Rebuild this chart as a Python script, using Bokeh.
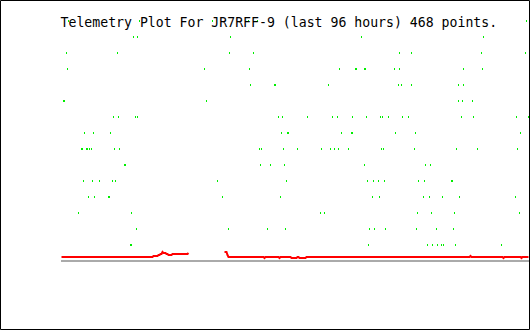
from bokeh.plotting import figure
from bokeh.models import Range1d, Label
from bokeh.embed import file_html
from bokeh.resources import INLINE

# ---- data ----
title_text = "Telemetry Plot For JR7RFF-9 (last 96 hours) 468 points."
n_points = 468

# digital channels: point index of each "on" sample, per row (row 1 = bottom)
bits = {
    15: [7, 78, 151, 187, 196, 299, 351, 465],
    14: [72, 76, 169, 300, 422],
    13: [5, 56, 168, 192, 338, 350, 420, 464],
    12: [6, 143, 188, 278, 294, 295, 303, 304, 333, 338, 402, 421],
    11: [189, 213, 214, 267, 337, 340, 350, 397, 402],
    10: [2, 3, 145, 397, 401, 411],
    9: [52, 57, 74, 76, 217, 221, 246, 271, 276, 291, 305, 319, 321, 327, 341, 347, 400, 412, 455, 467],
    8: [23, 32, 49, 220, 226, 227, 280, 290, 291, 334, 354, 459],
    7: [20, 21, 25, 26, 28, 30, 53, 58, 198, 200, 222, 236, 260, 269, 273, 277, 287, 320, 322, 353, 395, 416, 456],
    6: [63, 64, 199, 209, 223, 303, 364, 369],
    5: [22, 31, 38, 51, 54, 156, 225, 306, 312, 317, 323, 357, 363, 390, 391],
    4: [27, 33, 47, 48, 161, 219, 311, 318, 362, 368, 381, 398, 454],
    3: [17, 70, 259, 263, 356, 370, 393, 458],
    2: [75, 167, 206, 224, 308, 313, 324, 355, 375, 392],
    1: [69, 70, 307, 366, 371, 376, 380, 382, 394, 440],
}

# analog channel (point index, value); NaN = no data
red_idx = [0, 91, 92, 96, 97, 98, 99, 100, 101, 102, 104, 105, 106, 107, 110, 111, 126, 127,
           145,
           163, 165, 166, 167, 202, 203, 204, 217, 218, 219, 229, 230, 235, 236, 237, 238, 244,
           245, 408, 409, 410, 441, 442, 443, 459, 460, 461, 467]
red_val = [4, 4, 5, 5, 6, 6, 7, 7, 9, 8, 8, 7, 7, 6, 6, 7, 7, 8,
           float("nan"),
           9, 9, 6, 4, 4, 3, 4, 4, 3, 4, 4, 3, 3, 4, 4, 3, 3,
           4, 4, 5, 4, 4, 3, 4, 4, 3, 4, 4]

zero_idx = [0, n_points - 1]
zero_val = [0, 0]

# ---- figure ----
p = figure(width=530, height=330, output_backend="svg", toolbar_location=None,
           x_range=Range1d(-61.0, 469.0), y_range=Range1d(-69.5, 260.5),
           x_axis_location=None, y_axis_location=None, min_border=0,
           background_fill_color="white", border_fill_color="white")
p.grid.visible = False
p.outline_line_color = "black"
p.outline_line_width = 1
p.extra_y_ranges = {"rows": Range1d(1 - 85.5 / 16, 1 - 85.5 / 16 + 330 / 16)}

bx, by = [], []
for row, idxs in bits.items():
    for i in idxs:
        bx.append(i)
        by.append(row)
p.rect(x=bx, y=by, width=1, height=2, height_units="screen",
       fill_color="#00ee00", line_color=None, y_range_name="rows")

p.line([zero_idx[0] - 0.5, zero_idx[1] + 0.5], zero_val, line_color="#aaaaaa",
       line_width=2, line_cap="butt")
p.line(red_idx, red_val, line_color="#ff0000", line_width=2, line_join="miter", line_cap="butt")

p.add_layout(Label(x=60, y=308, x_units="screen", y_units="screen", text=title_text,
                   text_font="DejaVu Sans Mono", text_font_size="13.2px",
                   text_color="black", text_baseline="alphabetic"))

open("out.html", "w").write(file_html(p, INLINE))
